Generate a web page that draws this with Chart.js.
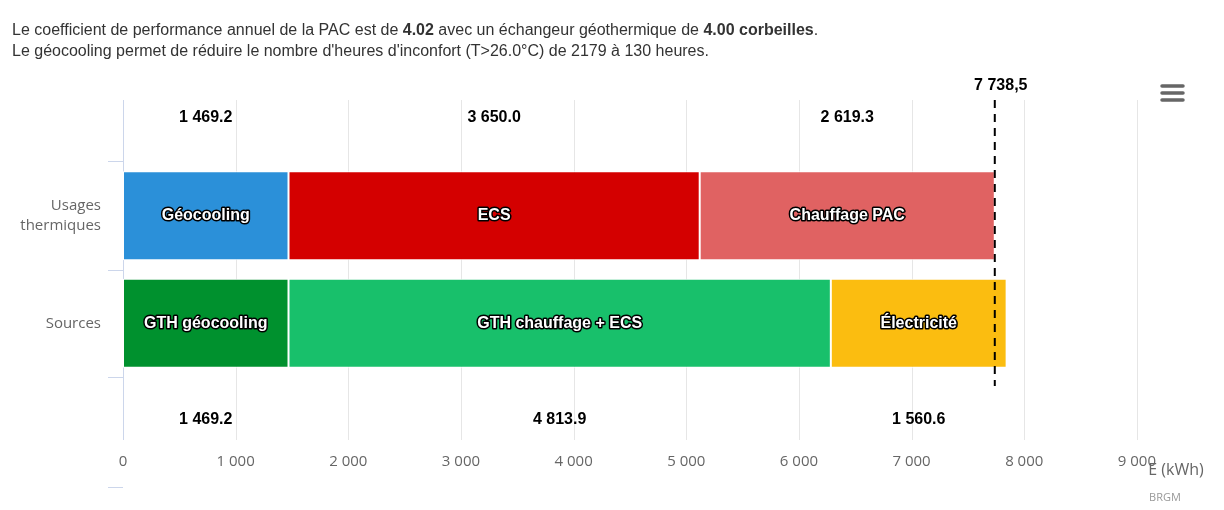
<!DOCTYPE html>
<html>
<head>
<meta charset="utf-8">
<script src="https://cdn.jsdelivr.net/npm/chart.js@4"></script>
<style>
  body { margin: 0; background: #fff; }
  #wrap { position: relative; width: 1224px; height: 510px; }
  #title { position: absolute; left: 12px; top: 19px; font: 16px "Liberation Sans", Arial, sans-serif; color: #333; line-height: 21px; }
  canvas { position: absolute; left: 0; top: 0; }
</style>
</head>
<body>
<div id="wrap">
  <canvas id="chart" width="1224" height="510"></canvas>
  <div id="title">Le coefficient de performance annuel de la PAC est de <b>4.02</b> avec un échangeur géothermique de <b>4.00 corbeilles</b>.<br>Le géocooling permet de réduire le nombre d'heures d'inconfort (T&gt;26.0°C) de 2179 à 130 heures.</div>
</div>
<script>
const categories = ["Usages thermiques", "Sources"];
const usageNames = ["Géocooling", "ECS", "Chauffage PAC"];
const usageValues = [1469.2, 3650.0, 2619.3];
const usageColors = ["#2b90d9", "#d40000", "#e06262"];
const sourceNames = ["GTH géocooling", "GTH chauffage + ECS", "Électricité"];
const sourceValues = [1469.2, 4813.9, 1560.6];
const sourceColors = ["#00912e", "#18c06b", "#fbbd10"];
const xTicks = [0, 1000, 2000, 3000, 4000, 5000, 6000, 7000, 8000, 9000];
const totalUsage = 7738.5;

const fmt = (v, dec) => v.toFixed(1).replace(/\B(?=(\d{3})+(?!\d))/g, " ").replace(".", dec);

const datasets = [];
usageNames.forEach((n, i) => datasets.push({
  label: n, data: [usageValues[i], null], backgroundColor: usageColors[i],
  borderColor: "#fff", borderWidth: 1, borderSkipped: false, stack: "s", group: "usage"
}));
sourceNames.forEach((n, i) => datasets.push({
  label: n, data: [null, sourceValues[i]], backgroundColor: sourceColors[i],
  borderColor: "#fff", borderWidth: 1, borderSkipped: false, stack: "s", group: "source"
}));

const decor = {
  id: "decor",
  beforeDatasetsDraw(chart) {
    const { ctx } = chart;
    const x = chart.scales.x;
    ctx.save();
    ctx.strokeStyle = "#e6e6e6"; ctx.lineWidth = 1;
    xTicks.forEach(t => {
      if (t === 0) return;
      const px = Math.round(x.getPixelForValue(t)) + 0.5;
      ctx.beginPath(); ctx.moveTo(px, 100); ctx.lineTo(px, 440); ctx.stroke();
    });
    ctx.strokeStyle = "#ccd6eb";
    ctx.beginPath(); ctx.moveTo(123.5, 100); ctx.lineTo(123.5, 440); ctx.stroke();
    [161, 270, 377, 487].forEach(y => {
      ctx.beginPath(); ctx.moveTo(108, y + 0.5); ctx.lineTo(123, y + 0.5); ctx.stroke();
    });
    ctx.restore();
  },
  afterDatasetsDraw(chart) {
    const { ctx } = chart;
    const x = chart.scales.x, y = chart.scales.y;
    ctx.save();
    // inner labels
    ctx.font = "bold 16px 'Liberation Sans', Arial, sans-serif";
    ctx.textAlign = "center"; ctx.textBaseline = "middle";
    ctx.lineJoin = "round";
    chart.data.datasets.forEach((ds, i) => {
      const meta = chart.getDatasetMeta(i);
      meta.data.forEach((bar, j) => {
        if (ds.data[j] == null) return;
        const cx = (bar.x + bar.base) / 2;
        ctx.lineWidth = 3; ctx.strokeStyle = "#000";
        ctx.strokeText(ds.label, cx, bar.y);
        ctx.fillStyle = "#fff";
        ctx.fillText(ds.label, cx, bar.y);
        // value labels above / below
        ctx.fillStyle = "#000";
        const ly = ds.group === "usage" ? 118 : 420;
        ctx.fillText(fmt(ds.data[j], "."), cx, ly);
      });
    });
    // total dashed line
    const tx = x.getPixelForValue(totalUsage);
    ctx.strokeStyle = "#000"; ctx.lineWidth = 2; ctx.setLineDash([8, 6]);
    ctx.beginPath(); ctx.moveTo(tx, 100); ctx.lineTo(tx, 386); ctx.stroke();
    ctx.setLineDash([]);
    ctx.fillStyle = "#000";
    ctx.fillText(fmt(totalUsage, ","), tx + 6, 86);
    // category labels
    ctx.font = "15px 'Open Sans', sans-serif"; ctx.fillStyle = "#666"; ctx.textAlign = "right";
    const yU = y.getPixelForValue(0), yS = y.getPixelForValue(1);
    ctx.fillText("Usages", 101, yU - 10);
    ctx.fillText("thermiques", 101, yU + 10);
    ctx.fillText("Sources", 101, yS);
    // axis title and credit
    ctx.textAlign = "center";
    ctx.font = "16px 'Open Sans', sans-serif";
    ctx.fillText("E (kWh)", 1176, 470);
    ctx.font = "11px 'Open Sans', sans-serif"; ctx.fillStyle = "#999";
    ctx.fillText("BRGM", 1165, 498);
    // menu icon
    ctx.strokeStyle = "#666"; ctx.lineWidth = 3.5; ctx.lineCap = "round";
    [86, 93, 100].forEach(yy => {
      ctx.beginPath(); ctx.moveTo(1162, yy); ctx.lineTo(1183, yy); ctx.stroke();
    });
    ctx.restore();
  }
};

new Chart(document.getElementById("chart"), {
  type: "bar",
  data: { labels: categories, datasets },
  options: {
    indexAxis: "y",
    responsive: false,
    animation: false,
    layout: { padding: { left: 123, right: 84, top: 162, bottom: 0 } },
    plugins: { legend: { display: false }, tooltip: { enabled: false } },
    datasets: { bar: { barPercentage: 0.83, categoryPercentage: 1 } },
    scales: {
      x: {
        stacked: true, min: 0, max: 9000,
        grid: { display: false }, border: { display: false },
        afterFit(s) { s.height = 133; },
        afterBuildTicks(s) { s.ticks = xTicks.map(v => ({ value: v })); },
        ticks: {
          padding: 68, color: "#666", font: { size: 15, family: "'Open Sans', sans-serif" },
          maxRotation: 0,
          callback: v => String(v).replace(/\B(?=(\d{3})+(?!\d))/g, " ")
        }
      },
      y: { stacked: true, display: false }
    }
  },
  plugins: [decor]
});
</script>
</body>
</html>
